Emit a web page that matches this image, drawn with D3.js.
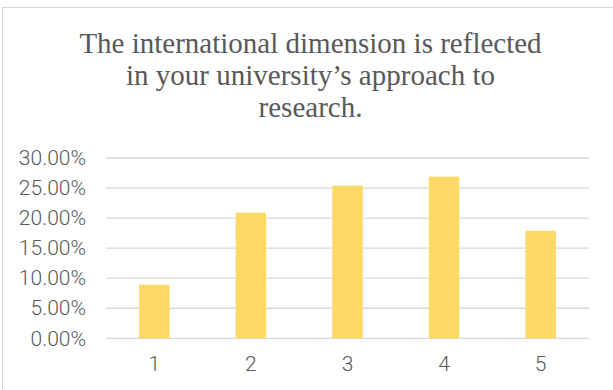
<!DOCTYPE html>
<html>
<head>
<meta charset="utf-8">
<script src="https://cdn.jsdelivr.net/npm/d3@7"></script>
<style>
  html, body { margin: 0; padding: 0; background: #fff; }
  svg { display: block; }
</style>
</head>
<body>
<svg id="chart" width="613" height="390"></svg>
<script>
// Response categories (Likert scale) and share of answers
const categories = ["1", "2", "3", "4", "5"];
const shares = [0.089, 0.209, 0.254, 0.269, 0.179];
const yTicks = [0, 0.05, 0.10, 0.15, 0.20, 0.25, 0.30];
const titleLines = [
  "The international dimension is reflected",
  "in your university\u2019s approach to",
  "research."
];

const svg = d3.select("#chart");
const W = 613, H = 390;
const plot = { left: 106, right: 589, top: 158, bottom: 338.3 };

// Outer chart frame
svg.append("rect")
  .attr("x", 2.5).attr("y", 7.5)
  .attr("width", W + 10).attr("height", H + 10)
  .attr("fill", "#fff")
  .attr("stroke", "#d9d9d9")
  .attr("stroke-width", 1);

// Title
const title = svg.append("text")
  .attr("text-anchor", "middle")
  .attr("font-family", "'Liberation Serif', 'Times New Roman', serif")
  .attr("font-size", 29)
  .attr("fill", "#595959");
titleLines.forEach((t, i) => {
  title.append("tspan")
    .attr("x", 310.5)
    .attr("y", 53 + i * 32)
    .text(t);
});

const x = d3.scaleBand()
  .domain(categories)
  .range([plot.left, plot.right])
  .paddingInner(0.684)
  .paddingOuter(0.342);

const y = d3.scaleLinear()
  .domain([0, 0.30])
  .range([plot.bottom, plot.top]);

// Horizontal gridlines
svg.append("g")
  .selectAll("line")
  .data(yTicks)
  .join("line")
  .attr("x1", plot.left).attr("x2", plot.right)
  .attr("y1", d => y(d)).attr("y2", d => y(d))
  .attr("stroke", "#d9d9d9")
  .attr("stroke-width", 1.3);

// Bars
svg.append("g")
  .selectAll("rect")
  .data(categories.map((c, i) => ({ c, v: shares[i] })))
  .join("rect")
  .attr("x", d => x(d.c))
  .attr("width", x.bandwidth())
  .attr("y", d => y(d.v))
  .attr("height", d => y(0) - y(d.v))
  .attr("fill", "#ffd966");

const labelFont = "Roboto, 'Liberation Sans', sans-serif";

// Y axis labels
const yAxis = d3.axisLeft(y)
  .tickValues(yTicks)
  .tickFormat(d3.format(".2%"))
  .tickSize(0)
  .tickPadding(0);
const gy = svg.append("g")
  .attr("transform", `translate(86,0)`)
  .call(yAxis);
gy.select(".domain").remove();
gy.selectAll("text")
  .attr("font-family", labelFont)
  .attr("font-weight", 300)
  .attr("font-size", 21)
  .attr("fill", "#595959");

// X axis labels
const xAxis = d3.axisBottom(x).tickSize(0).tickPadding(0);
const gx = svg.append("g")
  .attr("transform", `translate(0,${plot.bottom + 18})`)
  .call(xAxis);
gx.select(".domain").remove();
gx.selectAll("text")
  .attr("font-family", labelFont)
  .attr("font-weight", 300)
  .attr("font-size", 21)
  .attr("fill", "#595959");
</script>
</body>
</html>
